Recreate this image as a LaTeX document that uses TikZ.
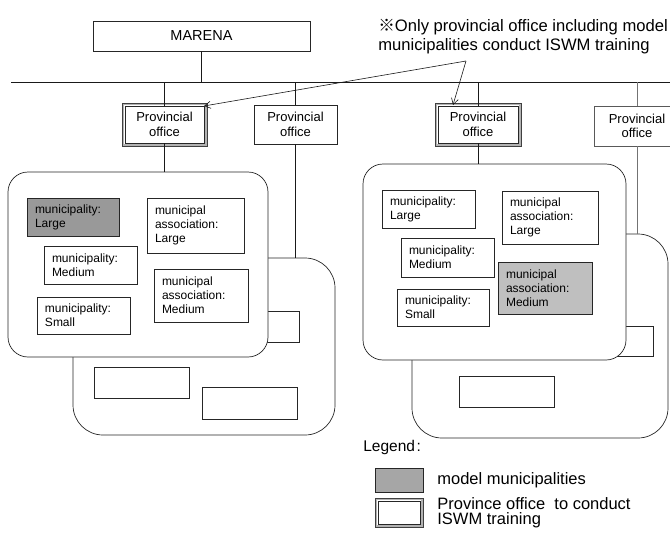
\documentclass[tikz,border=0pt]{standalone}
\usepackage{fontspec}
\setmainfont{Liberation Sans}
\newfontfamily\cjk{Noto Sans CJK JP}
\usetikzlibrary{arrows.meta,calc}
\definecolor{grayA}{HTML}{999999}
\definecolor{grayB}{HTML}{BFBFBF}
\definecolor{grayL}{HTML}{A6A6A6}
\begin{document}
\begin{tikzpicture}[x=1pt,y=-1pt, line width=0.7pt,
  box/.style={draw=black!85, fill=white, inner sep=0pt, outer sep=0pt, anchor=north west},
  group/.style={box, rounded corners=#1},
  mtext/.style={box, align=left, inner xsep=8pt, inner ysep=0pt, font=\fontsize{12}{14}\selectfont},
  office/.style={draw=black!85, fill=white, align=center, inner sep=0pt, outer sep=0pt, font=\fontsize{13}{14.5}\selectfont},
  frameA/.style={gray!60, line width=2pt},
  frameB/.style={black!75, line width=0.6pt},
  conn/.style={black!90, line width=0.7pt},
  arr/.style={black!90, line width=0.6pt, -{Straight Barb[length=6pt,width=7pt]}},
  note/.style={anchor=base west, inner sep=0pt, font=\fontsize{16.6}{20}\selectfont},
  legtext/.style={anchor=west, inner sep=0pt, align=left, font=\fontsize{16.5}{15}\selectfont}
]
\useasboundingbox (0,0) rectangle (670,533);

% bus line
\coordinate (busL) at (11,82);
\coordinate (busR) at (670,82);
\draw[conn] (busL) -- (busR);

% MARENA
\node[office, font=\fontsize{14.5}{16}\selectfont, minimum width=217pt, minimum height=30pt] (marena) at (201.5,36) {MARENA};
\draw[conn] (marena.south) -- (marena.south |- busL);

% provincial offices
\node[office, minimum width=79pt, minimum height=37pt] (o1) at (164.5,124.5) {Provincial\\office};
\node[office, minimum width=83pt, minimum height=39pt] (o2) at (295.5,124.5) {Provincial\\office};
\node[office, minimum width=80pt, minimum height=37pt] (o3) at (478,124.5) {Provincial\\office};
\node[office, draw=black!65, minimum width=86pt, minimum height=40pt] (o4) at (637,126) {Provincial\\office};
\foreach \o in {o1,o3}{
  \draw[frameA] ([shift={(-1.8pt,1.8pt)}]\o.north west) rectangle ([shift={(1.8pt,-1.8pt)}]\o.south east);
  \draw[frameB] ([shift={(-3pt,3pt)}]\o.north west) rectangle ([shift={(3pt,-3pt)}]\o.south east);
}
\draw[conn] (o1.north) -- (o1.north |- busL);
\draw[conn] (o2.north) -- (o2.north |- busL);
\draw[conn] (o3.north) -- (o3.north |- busL);
\draw[conn, black!55] (o4.north) -- (o4.north |- busL);

% ---------- left groups ----------
\node[group=30pt, minimum width=262pt, minimum height=177pt] (b1) at (73,258) {};
\node[box, minimum width=59pt, minimum height=31pt] (b1r1) at (240,311) {};
\node[box, minimum width=95pt, minimum height=31pt] (b1r2) at (94,367) {};
\node[box, minimum width=95pt, minimum height=32pt] (b1r3) at (202,387) {};
\draw[conn] (o2.south) -- (o2.south |- b1.north);

\node[group=20pt, minimum width=260pt, minimum height=185pt] (f1) at (8,172) {};
\draw[conn] (o1.south) -- (o1.south |- f1.north);
\node[mtext, fill=grayA, text width=76pt, minimum height=38pt] (l1) at (27,198) {municipality:\\Large};
\node[mtext, text width=81pt, minimum height=55pt] (l2) at (147,198) {municipal\\association:\\Large};
\node[mtext, text width=77pt, minimum height=38pt] (l3) at (44,246) {municipality:\\Medium};
\node[mtext, text width=78pt, minimum height=53pt] (l4) at (154,269) {municipal\\association:\\Medium};
\node[mtext, text width=77pt, minimum height=37pt] (l5) at (37,297) {municipality:\\Small};

% ---------- right groups ----------
\node[group=30pt, minimum width=256pt, minimum height=204pt] (b2) at (412,234) {};
\node[box, minimum width=93pt, minimum height=30pt] (b2r1) at (560,326) {};
\node[box, minimum width=95pt, minimum height=31pt] (b2r2) at (459,376) {};
\draw[conn, black!55] (o4.south) -- (o4.south |- b2.north);

\node[group=20pt, minimum width=263pt, minimum height=196pt] (f2) at (363,164) {};
\draw[conn] (o3.south) -- (o3.south |- f2.north);
\node[mtext, text width=77pt, minimum height=38pt] (r1) at (382,190) {municipality:\\Large};
\node[mtext, text width=80pt, minimum height=53pt] (r2) at (502,191) {municipal\\association:\\Large};
\node[mtext, text width=77pt, minimum height=39pt] (r3) at (401,238) {municipality:\\Medium};
\node[mtext, fill=grayB, text width=78pt, minimum height=52pt] (r4) at (498,262) {municipal\\association:\\Medium};
\node[mtext, text width=76pt, minimum height=37pt] (r5) at (397,289) {municipality:\\Small};

% ---------- note with arrows ----------
\node[note] (n1) at (378,31) {{\cjk ※}Only provincial office including model};
\node[note] (n2) at (378,50) {municipalities conduct ISWM training};
\coordinate (src) at (466,61);
\draw[arr] (src) -- (o1.north east);
\draw[arr] (src) -- ([xshift=-25pt,yshift=1pt]o3.north);

% ---------- legend ----------
\node[anchor=west, inner sep=0pt, font=\fontsize{15.5}{17}\selectfont] (leg) at (363,447) {Legend\kern1.5pt:};
\node[box, fill=grayL, minimum width=48pt, minimum height=24pt] (lg1) at (375,468) {};
\node[box, minimum width=42pt, minimum height=23pt] (lg2) at (378,501) {};
\draw[frameA] ([shift={(-1.6pt,1.6pt)}]lg2.north west) rectangle ([shift={(1.6pt,-1.6pt)}]lg2.south east);
\draw[frameB] ([shift={(-3pt,3pt)}]lg2.north west) rectangle ([shift={(3pt,-3pt)}]lg2.south east);
\node[legtext] (lt1) at (437,480) {model municipalities};
\node[legtext] (lt2) at (437,512.5) {Province office\ \ to conduct\\ISWM training};
\end{tikzpicture}
\end{document}
